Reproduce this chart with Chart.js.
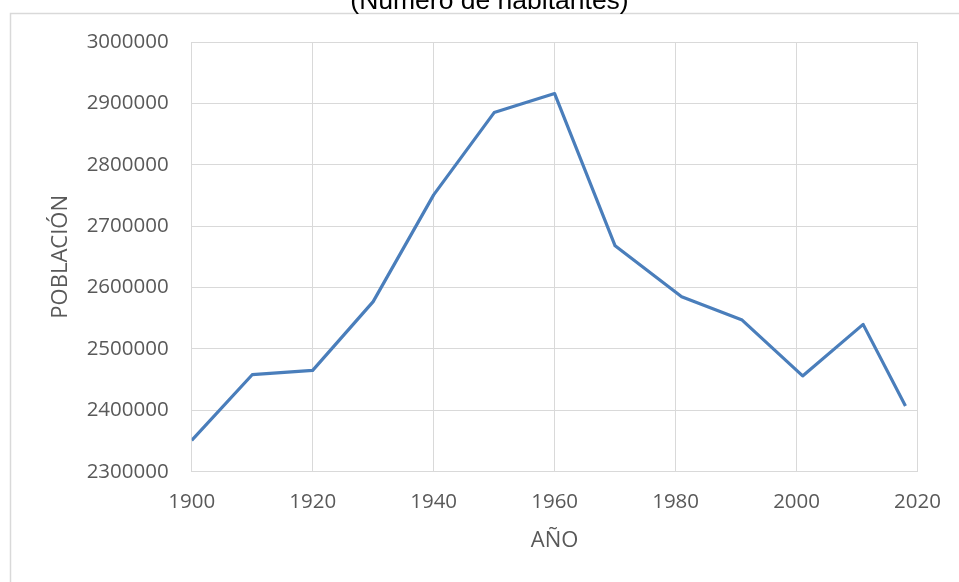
<!DOCTYPE html>
<html>
<head>
<meta charset="utf-8">
<script src="https://cdn.jsdelivr.net/npm/chart.js@4"></script>
<style>
  html, body { margin: 0; padding: 0; background: #fff; }
  canvas { display: block; }
</style>
</head>
<body>
<canvas id="chart" width="959" height="582"></canvas>
<script>
const years = [1900, 1910, 1920, 1930, 1940, 1950, 1960, 1970, 1981, 1991, 2001, 2011, 2018];
const poblacion = [2351000, 2458000, 2465000, 2577000, 2751000, 2885000, 2916000, 2668000, 2585000, 2547000, 2456000, 2540000, 2407000];
const titleText = "(Número de habitantes)";
const xTitle = "AÑO";
const yTitle = "POBLACIÓN";

const gray = "#595959";
const gridColor = "#d9d9d9";

// thin frame around the chart, like the Excel chart border
const framePlugin = {
  id: "frame",
  beforeDraw(chart) {
    const ctx = chart.ctx;
    ctx.save();
    ctx.fillStyle = "#fff";
    ctx.fillRect(0, 0, chart.width, chart.height);
    ctx.strokeStyle = gridColor;
    ctx.lineWidth = 1.5;
    ctx.strokeRect(10.5, 13.5, 2000, 2000);
    ctx.restore();
  }
};

const ctx = document.getElementById("chart").getContext("2d");
new Chart(ctx, {
  type: "line",
  data: {
    datasets: [{
      data: years.map((y, i) => ({ x: y, y: poblacion[i] })),
      borderColor: "#4a7ebb",
      borderWidth: 3.2,
      borderJoinStyle: "round",
      pointRadius: 0,
      tension: 0,
      fill: false
    }]
  },
  options: {
    responsive: false,
    animation: false,
    layout: { padding: { left: 61, right: 41, top: 0, bottom: 0 } },
    plugins: {
      legend: { display: false },
      tooltip: { enabled: false },
      title: {
        display: true,
        text: titleText,
        color: "#000",
        font: { family: "Liberation Sans", size: 26.5, weight: "normal" },
        padding: { top: -14.2, bottom: 24.4 }
      }
    },
    scales: {
      x: {
        type: "linear",
        min: 1900,
        max: 2020,
        afterFit(scale) { scale.height = 110.3; },
        ticks: {
          stepSize: 20,
          padding: 18,
          color: gray,
          font: { family: "Open Sans", size: 20.5 },
          callback: v => String(v)
        },
        grid: { color: gridColor, lineWidth: 1, drawTicks: false },
        border: { color: gridColor, width: 1 },
        title: {
          display: true,
          text: xTitle,
          color: gray,
          font: { family: "Open Sans", size: 22 },
          padding: { top: 0, bottom: 28.5 }
        }
      },
      y: {
        min: 2300000,
        max: 3000000,
        afterFit(scale) { scale.width = 130.7; },
        ticks: {
          stepSize: 100000,
          padding: 23,
          color: gray,
          font: { family: "Open Sans", size: 20.5 },
          callback: v => String(v)
        },
        grid: { color: gridColor, lineWidth: 1, drawTicks: false },
        border: { color: gridColor, width: 1 },
        title: {
          display: true,
          text: yTitle,
          color: gray,
          font: { family: "Open Sans", size: 22 },
          padding: { top: -13.2, bottom: 0 }
        }
      }
    }
  },
  plugins: [framePlugin]
});
</script>
</body>
</html>
